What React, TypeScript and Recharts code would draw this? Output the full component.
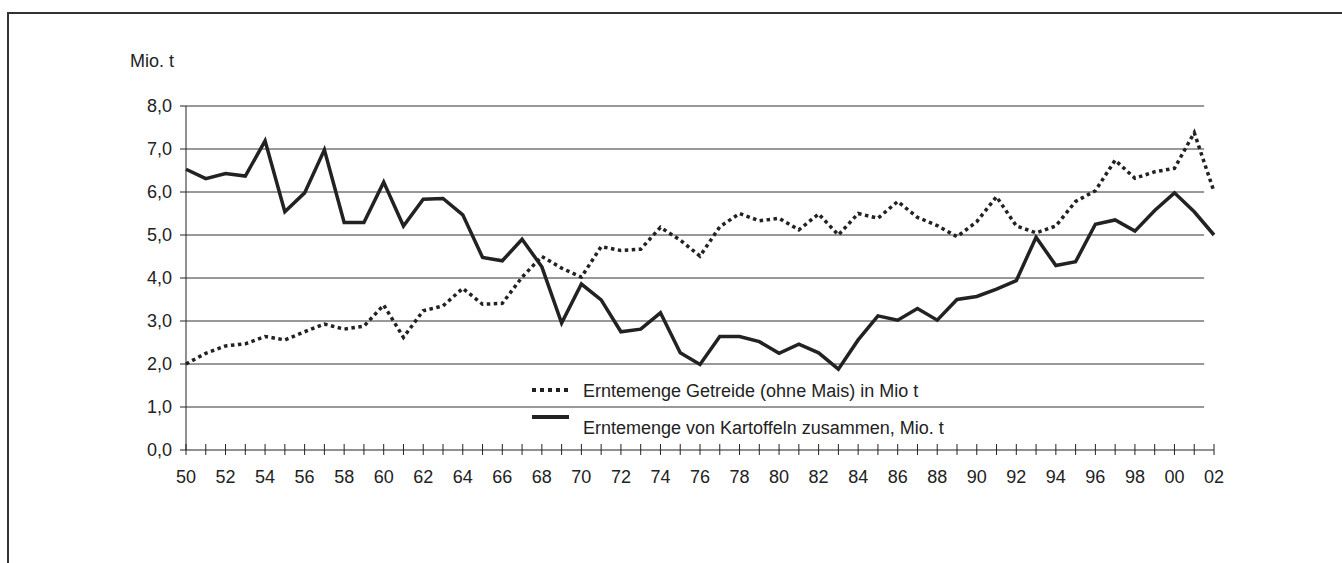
import React from "react";
import {
  LineChart,
  Line,
  XAxis,
  YAxis,
  ReferenceLine,
  Legend,
} from "recharts";

// years 1950 .. 2002
const years = [
  1950, 1951, 1952, 1953, 1954, 1955, 1956, 1957, 1958, 1959,
  1960, 1961, 1962, 1963, 1964, 1965, 1966, 1967, 1968, 1969,
  1970, 1971, 1972, 1973, 1974, 1975, 1976, 1977, 1978, 1979,
  1980, 1981, 1982, 1983, 1984, 1985, 1986, 1987, 1988, 1989,
  1990, 1991, 1992, 1993, 1994, 1995, 1996, 1997, 1998, 1999,
  2000, 2001, 2002,
];

// Erntemenge Getreide (ohne Mais), Mio. t
const getreide = [
  2.0, 2.25, 2.42, 2.47, 2.64, 2.56, 2.75, 2.93, 2.81, 2.88,
  3.37, 2.62, 3.24, 3.35, 3.76, 3.39, 3.41, 4.02, 4.5, 4.23,
  4.02, 4.73, 4.64, 4.67, 5.18, 4.88, 4.51, 5.19, 5.5, 5.33,
  5.39, 5.12, 5.49, 5.0, 5.5, 5.39, 5.78, 5.41, 5.22, 4.96,
  5.31, 5.89, 5.21, 5.05, 5.21, 5.78, 6.03, 6.74, 6.32, 6.47,
  6.55, 7.38, 6.01,
];

// Erntemenge von Kartoffeln zusammen, Mio. t
const kartoffeln = [
  6.53, 6.31, 6.43, 6.37, 7.19, 5.54, 5.98, 6.98, 5.29, 5.29,
  6.23, 5.21, 5.83, 5.85, 5.47, 4.48, 4.4, 4.9, 4.26, 2.95,
  3.86, 3.49, 2.75, 2.81, 3.19, 2.26, 1.99, 2.64, 2.64, 2.52,
  2.25, 2.46, 2.26, 1.88, 2.56, 3.12, 3.02, 3.29, 3.02, 3.5,
  3.57, 3.74, 3.94, 4.95, 4.29, 4.38, 5.25, 5.35, 5.09, 5.57,
  5.98, 5.54, 5.0,
];

const yTicks = [0, 1, 2, 3, 4, 5, 6, 7, 8];
const gridValues = [1, 2, 3, 4, 5, 6, 7, 8];

const SERIES_GETREIDE = "Erntemenge Getreide (ohne Mais) in Mio t";
const SERIES_KARTOFFELN = "Erntemenge von Kartoffeln zusammen, Mio. t";

const data = years.map((year, i) => ({
  year,
  getreide: getreide[i],
  kartoffeln: kartoffeln[i],
}));

const INK = "#222";
const FONT = "'Liberation Sans', Arial, sans-serif";

const TICK_SIZE = 5;
const TICK_MARGIN = 6;

function YearTick(props: any) {
  const { x, y, payload } = props;
  const axisY = y - TICK_SIZE - TICK_MARGIN;
  const yr = Number(payload.value);
  return (
    <g>
      {/* upper half of the cross-shaped tick */}
      <line x1={x} x2={x} y1={axisY - 6} y2={axisY} stroke={INK} strokeWidth={1} />
      {yr % 2 === 0 && (
        <text
          x={x}
          y={y}
          dy={22}
          textAnchor="middle"
          fill={INK}
          fontSize={18}
          fontFamily={FONT}
        >
          {String(yr % 100).padStart(2, "0")}
        </text>
      )}
    </g>
  );
}

function ChartLegend() {
  return (
    <svg width={420} height={60} style={{ display: "block" }}>
      <line x1={2} x2={40} y1={12} y2={12} stroke={INK} strokeWidth={4} strokeDasharray="4 4" />
      <text x={53} y={18.5} fontSize={18} fontFamily={FONT} fill={INK}>
        {SERIES_GETREIDE}
      </text>
      <line x1={2} x2={39} y1={39} y2={39} stroke={INK} strokeWidth={4} />
      <text x={53} y={56} fontSize={18} fontFamily={FONT} fill={INK}>
        {SERIES_KARTOFFELN}
      </text>
    </svg>
  );
}

export default function App() {
  return (
    <div
      style={{
        position: "absolute",
        left: 0,
        top: 0,
        width: 1342,
        height: 563,
        overflow: "hidden",
        background: "#fff",
        fontFamily: FONT,
      }}
    >
      {/* frame, cut off at right and bottom */}
      <div
        style={{
          position: "absolute",
          left: 7,
          top: 12,
          width: 1400,
          height: 600,
          borderLeft: "2px solid #333",
          borderTop: "2px solid #333",
        }}
      />
      <div
        style={{
          position: "absolute",
          left: 130,
          top: 50,
          fontSize: 18,
          color: INK,
          lineHeight: "22px",
        }}
      >
        Mio. t
      </div>
      <div style={{ position: "absolute", left: 0, top: 0 }}>
        <LineChart
          width={1342}
          height={563}
          data={data}
          margin={{ top: 106, right: 128, bottom: 73, left: 126 }}
        >
          {gridValues.map((v) => (
            <ReferenceLine
              key={v}
              segment={[
                { x: 1950, y: v },
                { x: 2001.5, y: v },
              ]}
              stroke="#333"
              strokeWidth={1}
              ifOverflow="visible"
            />
          ))}
          <XAxis
            dataKey="year"
            type="number"
            domain={[1950, 2002]}
            ticks={years}
            interval={0}
            height={40}
            stroke={INK}
            tickSize={TICK_SIZE}
            tickMargin={TICK_MARGIN}
            tickLine={{ stroke: INK }}
            axisLine={{ stroke: INK }}
            tick={<YearTick />}
          />
          <YAxis
            type="number"
            domain={[0, 8]}
            ticks={yTicks}
            interval={0}
            width={60}
            tickSize={6}
            tickMargin={8}
            axisLine={{ stroke: INK }}
            tickLine={{ stroke: INK }}
            tick={{ fill: INK, fontSize: 18, fontFamily: FONT }}
            tickFormatter={(v: number) => v.toFixed(1).replace(".", ",")}
          />
          <Legend
            layout="horizontal"
            verticalAlign="middle"
            align="center"
            content={<ChartLegend />}
            wrapperStyle={{ position: "absolute", left: 530, top: 378, width: 420, height: 60 }}
          />
          <Line
            dataKey="getreide"
            name={SERIES_GETREIDE}
            stroke={INK}
            strokeWidth={3.5}
            strokeDasharray="3.5 3.5"
            dot={false}
            activeDot={false}
            isAnimationActive={false}
            strokeLinejoin="miter"
          />
          <Line
            dataKey="kartoffeln"
            name={SERIES_KARTOFFELN}
            stroke={INK}
            strokeWidth={3.5}
            dot={false}
            activeDot={false}
            isAnimationActive={false}
            strokeLinejoin="miter"
          />
        </LineChart>
      </div>
    </div>
  );
}
